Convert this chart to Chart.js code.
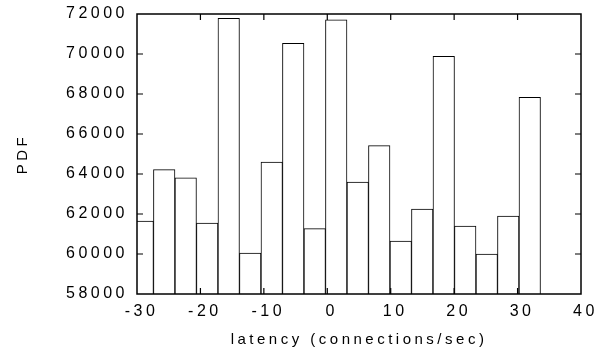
<!DOCTYPE html>
<html><head><meta charset="utf-8">
<script src="https://cdn.jsdelivr.net/npm/chart.js@4.4.0/dist/chart.umd.min.js"></script>
<style>html,body{margin:0;padding:0;background:#fff;}</style>
</head><body>
<canvas id="c" width="598" height="350"></canvas>
<script>
// Data
const binCenters = [-29.10, -25.71, -22.32, -18.93, -15.54, -12.15, -8.76, -5.37, -1.98, 1.41, 4.80, 8.19, 11.58, 14.97, 18.36, 21.75, 25.14, 28.53, 31.92];
const pdfValues  = [61640, 64220, 63810, 61550, 71780, 60050, 64590, 70530, 61270, 71710, 63590, 65420, 60640, 62250, 69880, 61400, 59990, 61900, 67830];
const xTickValues = [-30, -20, -10, 0, 10, 20, 30, 40];
const yTickValues = [58000, 60000, 62000, 64000, 66000, 68000, 70000, 72000];
const xTitle = 'latency (connections/sec)';
const yTitle = 'PDF';

const SPACING = '3.5px';
const spacingPlugin = {
  id: 'spacing',
  beforeUpdate(chart){ chart.ctx.letterSpacing = SPACING; },
  beforeLayout(chart){ chart.ctx.letterSpacing = SPACING; },
  beforeDraw(chart){ chart.ctx.letterSpacing = SPACING; }
};
const framePlugin = {
  id: 'frame',
  afterDraw(chart){
    const {ctx, chartArea: a, scales: {x, y}} = chart;
    ctx.save();
    ctx.strokeStyle = '#000';
    ctx.lineWidth = 1.5;
    ctx.strokeRect(a.left, a.top, a.right - a.left, a.bottom - a.top);
    ctx.lineWidth = 1.2;
    ctx.beginPath();
    x.ticks.forEach(t => {
      const px = x.getPixelForValue(t.value);
      if (px <= a.left + 1 || px >= a.right - 1) return;
      ctx.moveTo(px, a.bottom); ctx.lineTo(px, a.bottom - 6);
      ctx.moveTo(px, a.top); ctx.lineTo(px, a.top + 6);
    });
    y.ticks.forEach(t => {
      const py = y.getPixelForValue(t.value);
      if (py <= a.top + 1 || py >= a.bottom - 1) return;
      ctx.moveTo(a.left, py); ctx.lineTo(a.left + 6, py);
      ctx.moveTo(a.right, py); ctx.lineTo(a.right - 6, py);
    });
    ctx.stroke();
    ctx.restore();
  }
};

const tickFont = {family: '"Liberation Sans", Arial, sans-serif', size: 16, lineHeight: 1.2};
const titleFont = {family: '"Liberation Sans", Arial, sans-serif', size: 15, lineHeight: 1.2};

new Chart(document.getElementById('c'), {
  type: 'bar',
  data: {
    datasets: [{
      data: binCenters.map((c, i) => ({x: c, y: pdfValues[i]})),
      backgroundColor: '#ffffff',
      borderColor: '#000000',
      borderWidth: 1,
      borderSkipped: false,
      categoryPercentage: 1,
      barPercentage: 1,
      clip: 0
    }]
  },
  options: {
    responsive: false,
    animation: false,
    devicePixelRatio: 1,
    layout: {padding: {top: 14, right: 17, left: 0, bottom: 0}},
    plugins: {legend: {display: false}, tooltip: {enabled: false}},
    scales: {
      x: {
        type: 'linear',
        offset: false,
        min: -30, max: 40,
        grid: {display: false, drawTicks: false, offset: false},
        border: {display: false},
        afterBuildTicks: s => { s.ticks = xTickValues.map(v => ({value: v})); },
        afterFit: s => { s.height = 56; s.paddingLeft = 0; s.paddingRight = 0; },
        ticks: {color: '#000', font: tickFont, padding: 8, labelOffset: 4.5, maxRotation: 0, autoSkip: false, callback: v => String(v)},
        title: {display: true, text: xTitle, color: '#000', font: titleFont, padding: {top: 0, bottom: 1.5}}
      },
      y: {
        type: 'linear',
        min: 58000, max: 72000,
        grid: {display: false, drawTicks: false},
        border: {display: false},
        afterBuildTicks: s => { s.ticks = yTickValues.map(v => ({value: v})); },
        afterFit: s => { s.width = 137; s.paddingTop = 0; s.paddingBottom = 0; },
        ticks: {color: '#000', font: tickFont, padding: 9, autoSkip: false, callback: v => String(v)},
        title: {display: true, text: yTitle, color: '#000', font: titleFont, padding: {top: 14, bottom: 0}}
      }
    }
  },
  plugins: [spacingPlugin, framePlugin]
});
</script>
</body></html>
